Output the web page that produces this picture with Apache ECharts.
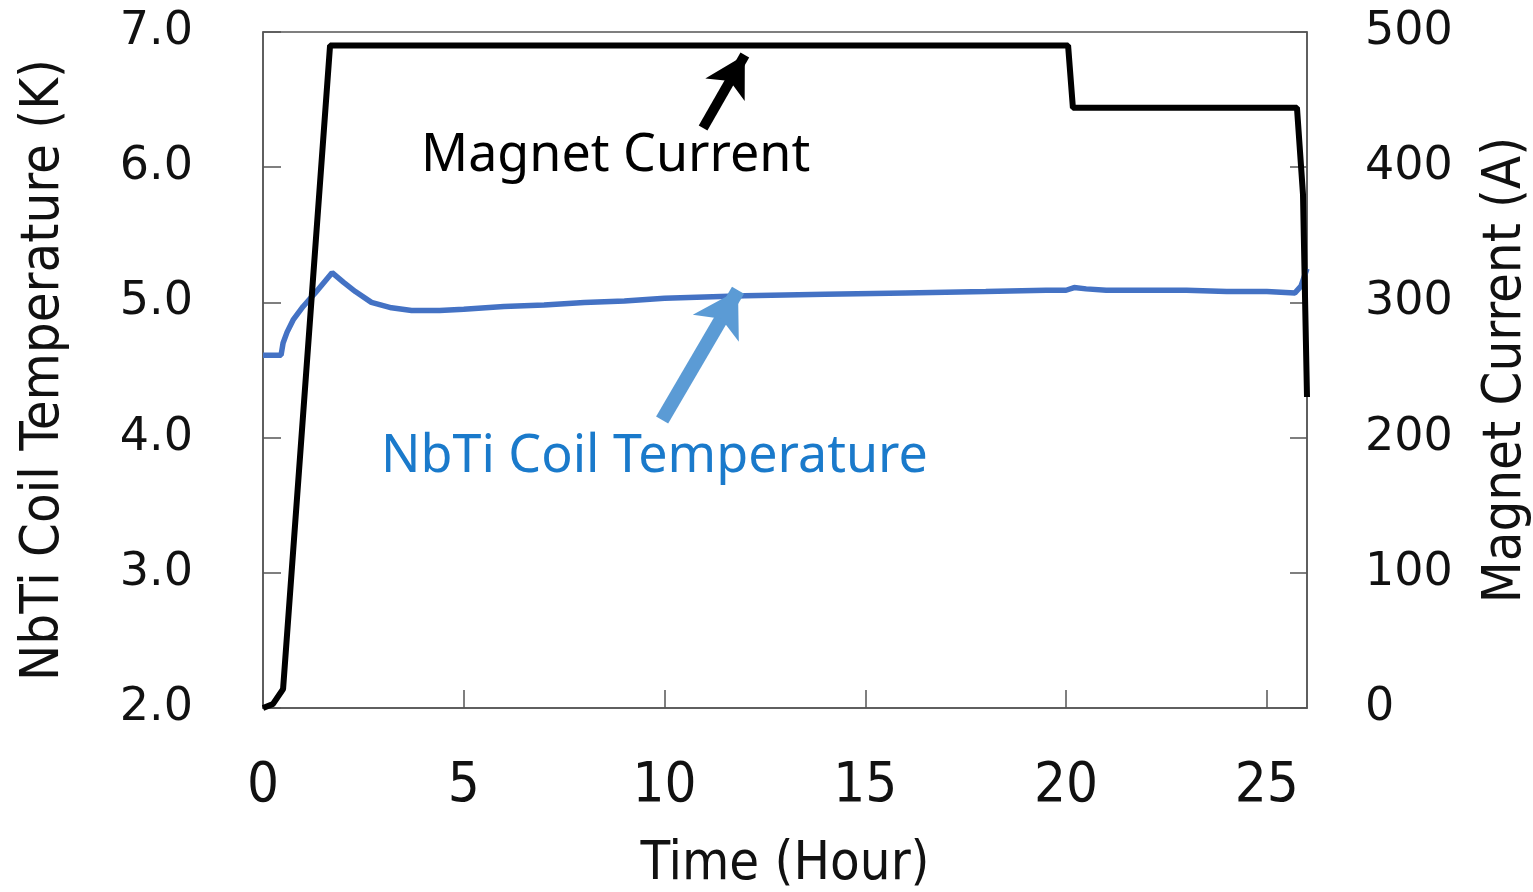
<!DOCTYPE html>
<html>
<head>
<meta charset="utf-8">
<script src="https://cdn.jsdelivr.net/npm/echarts@6/dist/echarts.min.js"></script>
<style>
  html, body { margin: 0; padding: 0; background: #fff; overflow: hidden; }
  #chart { width: 1533px; height: 892px; }
</style>
</head>
<body>
<div id="chart"></div>
<script>
// NbTi coil temperature (K) vs time (hour)
const tempTime = [0, 0.45, 0.5, 0.6, 0.75, 1.0, 1.3, 1.72, 2.0, 2.3, 2.7, 3.2, 3.7, 4.4, 5, 6, 7, 8, 9, 10, 11, 12, 14, 16, 18, 19.5, 20.0, 20.2, 20.5, 21, 22, 23, 24, 25, 25.7, 25.85, 26.0];
const tempK    = [4.61, 4.61, 4.70, 4.78, 4.87, 4.97, 5.07, 5.22, 5.15, 5.08, 5.00, 4.96, 4.94, 4.94, 4.95, 4.97, 4.98, 5.00, 5.01, 5.03, 5.04, 5.05, 5.06, 5.07, 5.08, 5.09, 5.09, 5.11, 5.10, 5.09, 5.09, 5.09, 5.08, 5.08, 5.07, 5.12, 5.25];

// Magnet current (A) vs time (hour)
const currentTime = [0, 0.25, 0.5, 1.67, 20.05, 20.17, 25.75, 25.9, 26.0];
const currentAmps = [0, 3, 14, 490, 490, 444, 444, 380, 230];

// Axis ranges and ticks
const timeRange = [0, 26], timeStep = 5;
const tempRange = [2, 7], tempStep = 1;
const ampRange = [0, 500], ampStep = 100;

// Annotation arrows: [tail, tip] in data units
const currentArrow = [[10.96, 429], [12.0, 483]];
const tempArrow = [[9.94, 4.13], [11.83, 5.09]];

const labelFont = '"DejaVu Sans", sans-serif';
const narrowFont = '"Liberation Sans Narrow", "DejaVu Sans Condensed", sans-serif';
const noteFont = '"Noto Sans", "Open Sans", sans-serif';

const zip = (xs, ys) => xs.map((x, i) => [x, ys[i]]);

const chart = echarts.init(document.getElementById('chart'), null, { renderer: 'canvas' });

const axisLineStyle = { color: '#555', width: 1.5 };

chart.setOption({
  backgroundColor: '#ffffff',
  animation: false,
  grid: {
    left: 263, right: 226, top: 32, bottom: 184,
    outerBoundsMode: 'none', containLabel: false,
    show: true, borderColor: '#555', borderWidth: 1.5, backgroundColor: 'transparent'
  },
  xAxis: {
    type: 'value', min: timeRange[0], max: timeRange[1], interval: timeStep,
    name: 'Time (Hour)', nameLocation: 'middle', nameGap: 130,
    nameTextStyle: { fontFamily: narrowFont, fontSize: 54, color: '#111' },
    axisLine: { show: true, lineStyle: axisLineStyle },
    axisTick: { show: true, inside: true, length: 18, lineStyle: axisLineStyle },
    axisLabel: { showMaxLabel: false, margin: 50, fontFamily: narrowFont, fontSize: 56, color: '#111' },
    splitLine: { show: false }
  },
  yAxis: [
    {
      type: 'value', min: tempRange[0], max: tempRange[1], interval: tempStep, position: 'left',
      name: 'NbTi Coil Temperature (K)', nameLocation: 'middle', nameGap: 192,
      nameTextStyle: { fontFamily: narrowFont, fontSize: 54, color: '#111' },
      axisLine: { show: true, lineStyle: axisLineStyle },
      axisTick: { show: true, inside: true, length: 18, lineStyle: axisLineStyle },
      axisLabel: { margin: 70, fontFamily: labelFont, fontSize: 46, color: '#111', formatter: v => v.toFixed(1) },
      splitLine: { show: false }
    },
    {
      type: 'value', min: ampRange[0], max: ampRange[1], interval: ampStep, position: 'right',
      name: 'Magnet Current (A)', nameLocation: 'middle', nameGap: 172,
      nameTextStyle: { fontFamily: narrowFont, fontSize: 54, color: '#111' },
      axisLine: { show: true, lineStyle: axisLineStyle },
      axisTick: { show: true, inside: true, length: 17, lineStyle: axisLineStyle },
      axisLabel: { margin: 58, fontFamily: labelFont, fontSize: 46, color: '#111' },
      splitLine: { show: false }
    }
  ],
  series: [
    {
      name: 'NbTi Coil Temperature', type: 'line', yAxisIndex: 0,
      data: zip(tempTime, tempK), showSymbol: false, smooth: false,
      lineStyle: { color: '#4472C4', width: 5.5 }, z: 2,
      markLine: {
        silent: true, symbol: ['none', 'arrow'], symbolSize: [40, 44],
        label: { show: false },
        lineStyle: { color: '#5B9BD5', width: 14, type: 'solid' },
        data: [[{ coord: tempArrow[0] }, { coord: tempArrow[1] }]]
      }
    },
    {
      name: 'Magnet Current', type: 'line', yAxisIndex: 1,
      data: zip(currentTime, currentAmps), showSymbol: false, smooth: false,
      lineStyle: { color: '#000', width: 6 }, z: 3,
      markLine: {
        silent: true, symbol: ['none', 'arrow'], symbolSize: [34, 40],
        label: { show: false },
        lineStyle: { color: '#000', width: 10, type: 'solid' },
        data: [[{ coord: currentArrow[0] }, { coord: currentArrow[1] }]]
      }
    }
  ],
  graphic: [
    { type: 'text', left: 421, top: 130, style: { text: 'Magnet Current', font: '52px ' + noteFont, fill: '#000' } },
    { type: 'text', left: 381, top: 431, style: { text: 'NbTi Coil Temperature', font: '52px ' + noteFont, fill: '#1a7acb' } }
  ]
});
</script>
</body>
</html>
